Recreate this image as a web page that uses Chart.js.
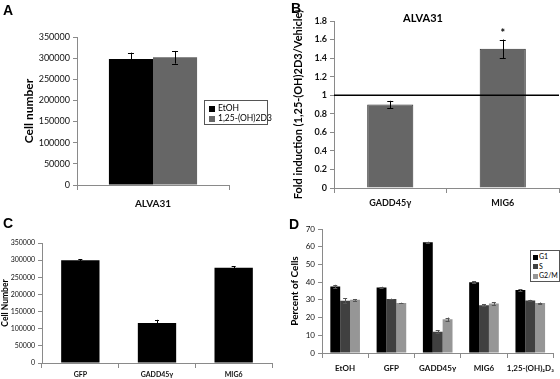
<!DOCTYPE html>
<html><head><meta charset="utf-8">
<script src="https://cdn.jsdelivr.net/npm/chart.js@4"></script>
<style>
body{margin:0;width:560px;height:379px;background:#fff;position:relative;overflow:hidden;font-family:Lato,"Liberation Sans",sans-serif}
canvas{position:absolute}
.pl{position:absolute;font-family:"Liberation Sans",Arial,sans-serif;font-weight:bold;font-size:14px;line-height:14px;color:#000}
.tt{position:absolute;font-family:Lato,sans-serif;font-weight:bold;color:#000;white-space:nowrap;transform:translateX(-50%)}
.lg{position:absolute;border:1px solid #555;background:#fff;font-family:Lato,sans-serif;color:#000;box-sizing:border-box}
.lg div{white-space:nowrap}
.lg span{display:inline-block;vertical-align:middle;margin-right:3px}
</style></head><body>
<canvas id="cA" width="280" height="215" style="left:0;top:0"></canvas>
<canvas id="cB" width="280" height="215" style="left:280px;top:0"></canvas>
<canvas id="cC" width="280" height="164" style="left:0;top:215px"></canvas>
<canvas id="cD" width="280" height="164" style="left:280px;top:215px"></canvas>
<div class="pl" style="left:3px;top:3px">A</div>
<div class="pl" style="left:291px;top:1px">B</div>
<div class="pl" style="left:3px;top:216px">C</div>
<div class="pl" style="left:289px;top:217px">D</div>
<div class="tt" style="left:423px;top:11px;font-size:11px">ALVA31</div>
<div class="lg" style="left:204px;top:100px;width:64px;height:25px;font-size:8.5px;padding:2px 0 0 4px;line-height:10px">
  <div><span style="width:6px;height:6px;background:#000"></span>EtOH</div>
  <div><span style="width:6px;height:6px;background:#666"></span>1,25-(OH)2D3</div>
</div>
<div class="lg" style="left:530px;top:250px;width:30px;height:32px;font-size:7px;padding:1px 0 0 2px;line-height:9.5px">
  <div><span style="width:5px;height:5px;background:#000;margin-right:1px"></span>G1</div>
  <div><span style="width:5px;height:5px;background:#404040;margin-right:1px"></span>S</div>
  <div><span style="width:5px;height:5px;background:#969696;margin-right:1px"></span>G2/M</div>
</div>
<script>
// ---- Panel A ----
const catsA = ['ALVA31'];
const etohA = [298000];
const etohErrA = [15000];
const vitdA = [302000];
const vitdErrA = [15000];
// ---- Panel B ----
const catsB = ['GADD45γ', 'MIG6'];
const foldB = [0.9, 1.5];
const foldErrB = [0.04, 0.1];
const sigB = ['', '*'];
const refB = 1;
// ---- Panel C ----
const catsC = ['GFP', 'GADD45γ', 'MIG6'];
const cellsC = [300000, 117000, 278000];
const cellsErrC = [3000, 9000, 4000];
// ---- Panel D ----
const catsD = ['EtOH', 'GFP', 'GADD45γ', 'MIG6', '1,25-(OH)₂D₃'];
const g1D = [37.5, 37, 62.5, 40, 35.5];
const g1ErrD = [1, 0.4, 0.3, 0.5, 0.6];
const sD = [29.5, 30.5, 12, 27, 29.7];
const sErrD = [1.5, 0.2, 0.8, 0.5, 0.3];
const g2mD = [30, 28.2, 19, 28, 28.2];
const g2mErrD = [0.5, 0.2, 1, 0.8, 0.3];

const F = 'Lato';
const AX = '#8a8a8a';

const errPlugin = {
  id: 'err',
  afterDatasetsDraw(chart, args, opts) {
    const ctx = chart.ctx, ys = chart.scales.y;
    chart.data.datasets.forEach((ds, di) => {
      if (!ds.err) return;
      const meta = chart.getDatasetMeta(di);
      meta.data.forEach((bar, i) => {
        const v = ds.data[i], e = ds.err[i];
        const x = bar.x, y1 = ys.getPixelForValue(v + e), y2 = ys.getPixelForValue(v - e);
        const cw = opts.cap || 3;
        ctx.save();
        ctx.strokeStyle = opts.color || '#000'; ctx.lineWidth = 1;
        ctx.beginPath();
        ctx.moveTo(Math.round(x) + 0.5, y1); ctx.lineTo(Math.round(x) + 0.5, y2);
        ctx.moveTo(x - cw, Math.round(y1) + 0.5); ctx.lineTo(x + cw, Math.round(y1) + 0.5);
        ctx.moveTo(x - cw, Math.round(y2) + 0.5); ctx.lineTo(x + cw, Math.round(y2) + 0.5);
        ctx.stroke();
        ctx.restore();
      });
    });
  }
};

const refPlugin = {
  id: 'ref',
  afterDatasetsDraw(chart) {
    const ctx = chart.ctx, ys = chart.scales.y, a = chart.chartArea;
    const y = ys.getPixelForValue(refB);
    ctx.save(); ctx.strokeStyle = '#000'; ctx.lineWidth = 1.5;
    ctx.beginPath(); ctx.moveTo(a.left, y); ctx.lineTo(a.right, y); ctx.stroke();
    const ds = chart.data.datasets[0], meta = chart.getDatasetMeta(0);
    ctx.fillStyle = '#000'; ctx.font = 'bold 11px ' + F; ctx.textAlign = 'center'; ctx.textBaseline = 'bottom';
    meta.data.forEach((bar, i) => {
      if (!sigB[i]) return;
      ctx.fillText(sigB[i], bar.x, ys.getPixelForValue(ds.data[i] + ds.err[i]) - 1);
    });
    ctx.restore();
  }
};

function xScale(h, fs, pad, bold) {
  return {
    grid: { offset: true, drawOnChartArea: false, tickLength: 5, color: AX },
    border: { color: AX },
    ticks: { font: { family: F, size: fs, weight: bold ? 'bold' : 'normal' }, color: '#111', padding: pad, maxRotation: 0, autoSkip: false },
    afterFit(s) { s.height = h; }
  };
}
function yScale(w, max, step, fs, bold, title, tfs, tpad) {
  return {
    min: 0, max: max,
    grid: { drawOnChartArea: false, tickLength: 4, color: AX },
    border: { color: AX },
    ticks: { stepSize: step, font: { family: F, size: fs, weight: bold ? 'bold' : 'normal' }, color: '#111', padding: 3,
      callback: v => String(Math.round(v * 10) / 10) },
    title: { display: true, text: title, font: { family: F, size: tfs, weight: 'bold' }, color: '#000', padding: { top: tpad, bottom: 0 } },
    afterFit(s) { s.width = w; }
  };
}
const base = (pad) => ({
  responsive: false, animation: false,
  layout: { padding: pad },
  plugins: { legend: { display: false }, tooltip: { enabled: false } }
});

// A
new Chart(document.getElementById('cA'), {
  type: 'bar',
  data: { labels: catsA, datasets: [
    { label: 'EtOH', data: etohA, err: etohErrA, backgroundColor: '#000', categoryPercentage: 0.58, barPercentage: 1 },
    { label: '1,25-(OH)2D3', data: vitdA, err: vitdErrA, backgroundColor: '#666', categoryPercentage: 0.58, barPercentage: 1 }
  ] },
  options: Object.assign(base({ top: 37, right: 51, left: 0, bottom: 0 }), {
    scales: { x: xScale(30, 10, 8, true), y: yScale(77, 350000, 50000, 9, false, 'Cell number', 12, 22) },
    plugins: { legend: { display: false }, tooltip: { enabled: false }, err: { cap: 3 } }
  }),
  plugins: [errPlugin]
});

// B
new Chart(document.getElementById('cB'), {
  type: 'bar',
  data: { labels: catsB, datasets: [
    { label: 'Fold', data: foldB, err: foldErrB, backgroundColor: '#666', borderColor: '#333', borderWidth: 1, categoryPercentage: 0.41, barPercentage: 1 }
  ] },
  options: Object.assign(base({ top: 21, right: 1, left: 0, bottom: 0 }), {
    scales: { x: xScale(27, 9, 5, true), y: yScale(54, 1.8, 0.2, 9, true, 'Fold induction (1,25-(OH)2D3/Vehicle)', 11, 12) },
    plugins: { legend: { display: false }, tooltip: { enabled: false }, err: { cap: 3 } }
  }),
  plugins: [errPlugin, refPlugin]
});

// C
new Chart(document.getElementById('cC'), {
  type: 'bar',
  data: { labels: catsC, datasets: [
    { label: 'Cells', data: cellsC, err: cellsErrC, backgroundColor: '#000', categoryPercentage: 0.5, barPercentage: 1 }
  ] },
  options: Object.assign(base({ top: 28, right: 8, left: 0, bottom: 0 }), {
    scales: { x: xScale(16, 7, 3, true), y: yScale(42, 350000, 50000, 7, false, 'Cell Number', 8.5, 0) },
    plugins: { legend: { display: false }, tooltip: { enabled: false }, err: { cap: 2 } }
  }),
  plugins: [errPlugin]
});

// D
new Chart(document.getElementById('cD'), {
  type: 'bar',
  data: { labels: catsD, datasets: [
    { label: 'G1', data: g1D, err: g1ErrD, backgroundColor: '#000', categoryPercentage: 0.64, barPercentage: 1 },
    { label: 'S', data: sD, err: sErrD, backgroundColor: '#404040', categoryPercentage: 0.64, barPercentage: 1 },
    { label: 'G2/M', data: g2mD, err: g2mErrD, backgroundColor: '#969696', categoryPercentage: 0.64, barPercentage: 1 }
  ] },
  options: Object.assign(base({ top: 14, right: 2, left: 0, bottom: 0 }), {
    scales: { x: xScale(26, 8, 6, true), y: yScale(42, 70, 10, 8, false, 'Percent of Cells', 10, 9) },
    plugins: { legend: { display: false }, tooltip: { enabled: false }, err: { cap: 2, color: '#555' } }
  }),
  plugins: [errPlugin]
});
</script>
</body></html>
